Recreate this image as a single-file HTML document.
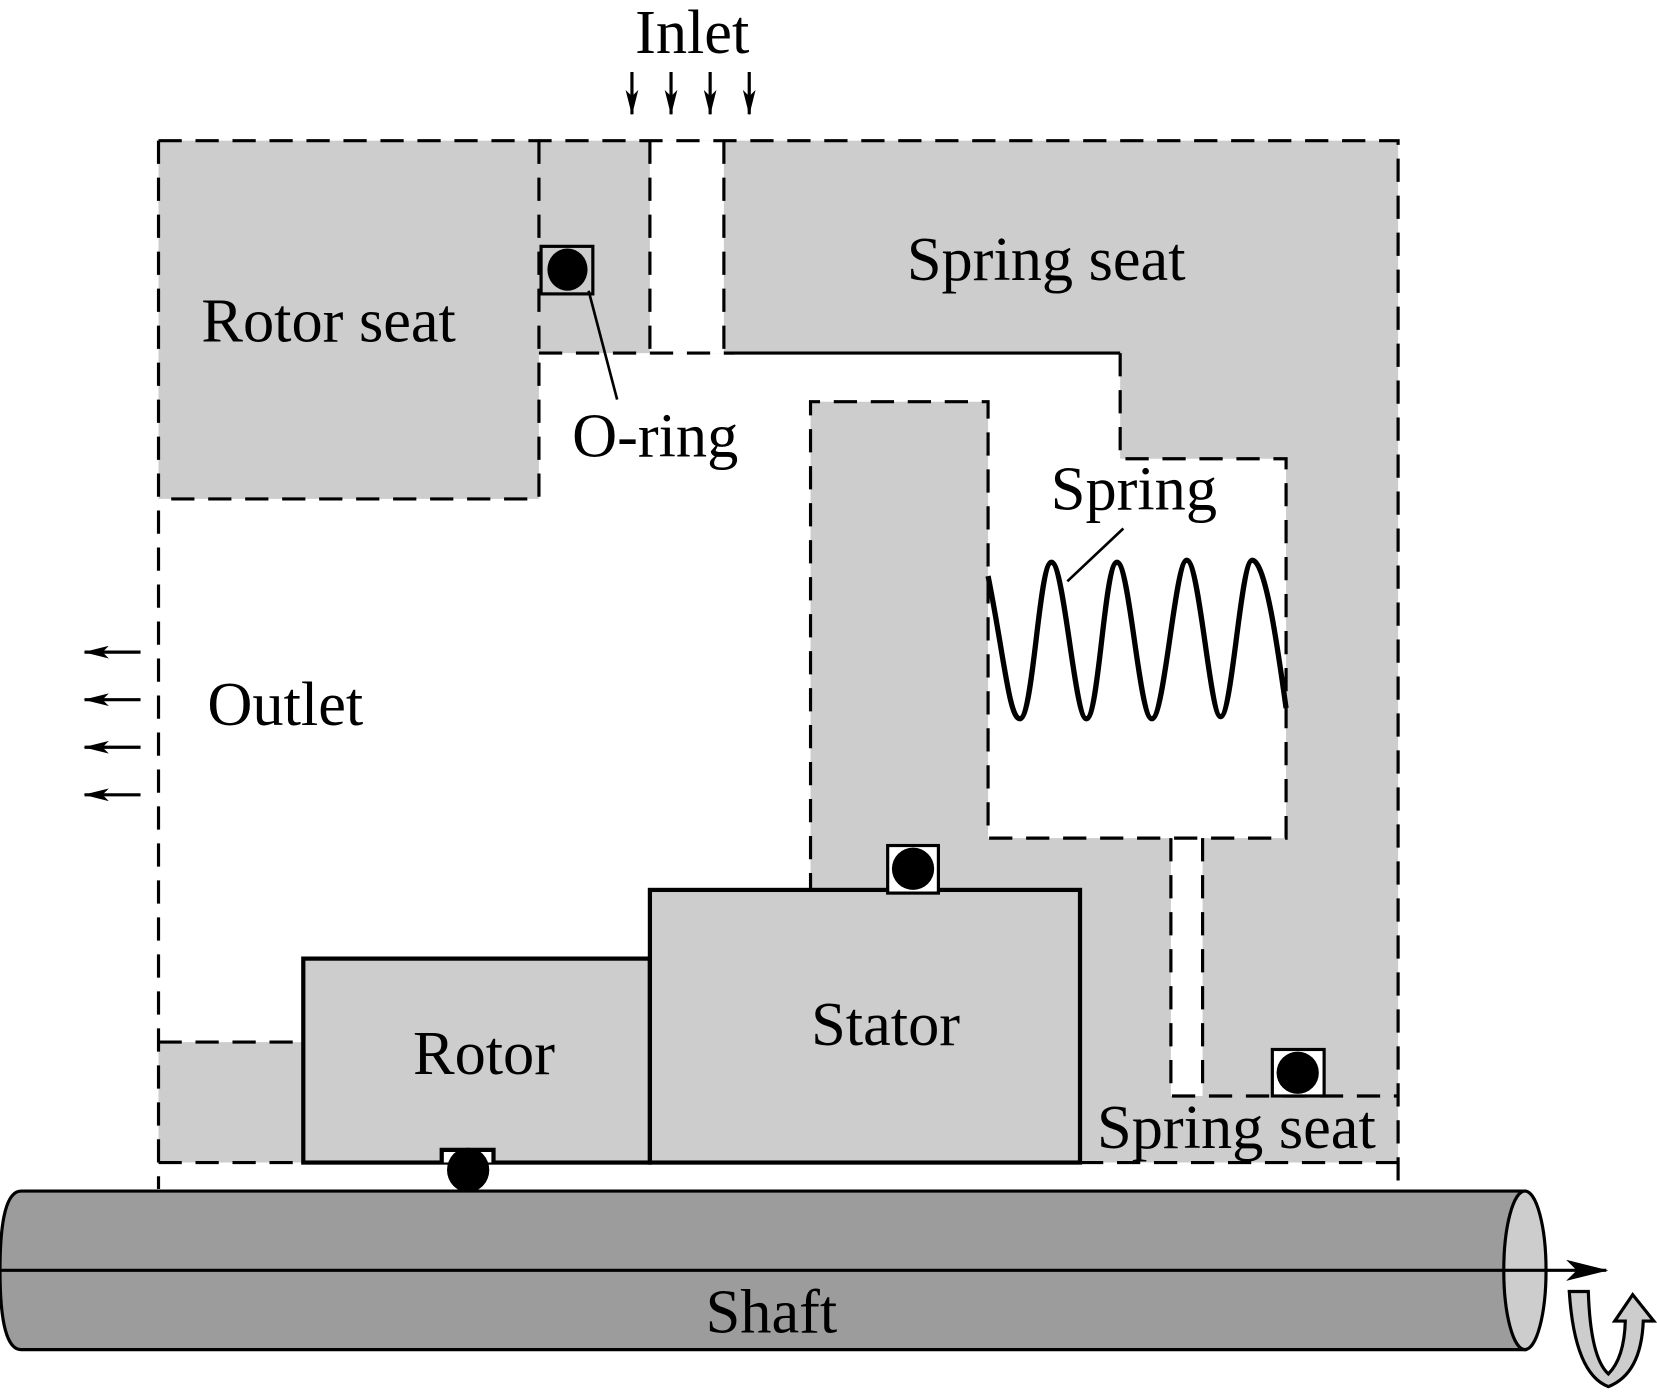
<!DOCTYPE html>
<html><head><meta charset="utf-8"><style>html,body{margin:0;padding:0;background:#fff}svg{display:block}</style></head>
<body>
<svg width="1657" height="1392" viewBox="0 0 1568 1317" xmlns="http://www.w3.org/2000/svg" font-family="Liberation Serif, serif" font-size="59">
<defs><marker id="ah" markerWidth="24" markerHeight="12" refX="23" refY="6" orient="auto" markerUnits="userSpaceOnUse"><path d="M0,0 L24,6 L0,12 L6,6z" fill="#000"/></marker>
<marker id="ah2" markerWidth="40" markerHeight="20" refX="38" refY="10" orient="auto" markerUnits="userSpaceOnUse"><path d="M0,0 L40,10 L0,20 L10,10z" fill="#000"/></marker></defs>
<rect x="150" y="133" width="1173" height="967" fill="#cdcdcd"/>
<path d="M150,472 L510,472 L510,334 L1060,334 L1060,434 L1217,434 L1217,793 L1138,793 L1138,1037 L1108,1037 L1108,793 L935,793 L935,380 L767,380 L767,1100 L287,1100 L287,986 L150,986 Z" fill="#fff"/>
<rect x="615" y="133" width="70" height="201" fill="#fff"/>
<rect x="150" y="1100" width="1173" height="27" fill="#fff"/>
<g stroke="#000" stroke-width="3" fill="none" stroke-dasharray="22,13">
<path d="M150,133 H1323 V1125"/>
<path d="M150,133 V1125"/>
<path d="M510,133 V472 H150"/>
<path d="M510,334 H695"/>
<path d="M615,133 V334 M685,133 V334"/>
<path d="M1060,334 V434 H1217 V793 H935 V380 H767 V842"/>
<path d="M1108,793 V1037 H1323 M1138,793 V1037"/>
<path d="M150,986 H287 M150,1100 H287"/>
<path d="M1022,1100 H1323"/>
</g>
<line x1="685" y1="334" x2="1060" y2="334" stroke="#000" stroke-width="3"/>
<rect x="287" y="907" width="328" height="193" fill="#cdcdcd" stroke="#000" stroke-width="4"/>
<rect x="615" y="842" width="407" height="258" fill="#cdcdcd" stroke="#000" stroke-width="4"/>
<rect x="512" y="233" width="49" height="45" fill="#cdcdcd" stroke="#000" stroke-width="3"/>
<ellipse cx="537" cy="255" rx="19" ry="20" fill="#000"/>
<rect x="840" y="800" width="48" height="45" fill="#fff" stroke="#000" stroke-width="3"/>
<circle cx="864" cy="822" r="20" fill="#000"/>
<rect x="1204" y="993" width="49" height="44" fill="#fff" stroke="#000" stroke-width="3"/>
<circle cx="1228" cy="1015" r="20" fill="#000"/>
<path d="M418,1100 V1088 H467 V1100" fill="#fff" stroke="#000" stroke-width="4"/>
<ellipse cx="443" cy="1107" rx="20" ry="21" fill="#000"/>
<line x1="557" y1="275" x2="584" y2="378" stroke="#000" stroke-width="2.5"/>
<path d="M935,545 C950,620 955,680 965,680 C978,680 983,532 995,532 C1007,532 1017,680 1028,680 C1040,680 1045,532 1057,532 C1069,532 1078,680 1090,680 C1102,680 1112,530 1123,530 C1135,530 1145,678 1155,678 C1166,678 1174,530 1185,530 C1198,530 1210,620 1217,670" fill="none" stroke="#000" stroke-width="5"/>
<line x1="1010" y1="550" x2="1063" y2="500" stroke="#000" stroke-width="2.5"/>
<path d="M20,1127 H1443 V1277 H20 Q0,1277 0,1202 Q0,1127 20,1127 Z" fill="#9c9c9c" stroke="#000" stroke-width="3"/>
<ellipse cx="1443" cy="1202" rx="20" ry="75" fill="#cdcdcd" stroke="#000" stroke-width="3"/>
<line x1="0" y1="1202" x2="1520" y2="1202" stroke="#000" stroke-width="3" marker-end="url(#ah2)"/>
<path d="M1485,1222 L1503,1222 Q1505,1285 1522,1300 Q1537,1285 1538,1250 L1528,1250 L1545,1225 L1565,1250 L1555,1250 Q1553,1300 1522,1312 Q1490,1300 1485,1222 Z" fill="#cdcdcd" stroke="#000" stroke-width="3"/>
<g stroke="#000" stroke-width="3" marker-end="url(#ah)">
<line x1="598" y1="68" x2="598" y2="108"/><line x1="635" y1="68" x2="635" y2="108"/>
<line x1="672" y1="68" x2="672" y2="108"/><line x1="709" y1="68" x2="709" y2="108"/>
<line x1="133" y1="617" x2="80" y2="617"/><line x1="133" y1="662" x2="80" y2="662"/>
<line x1="133" y1="707" x2="80" y2="707"/><line x1="133" y1="752" x2="80" y2="752"/>
</g>
<g text-anchor="middle" fill="#000">
<text x="655" y="50">Inlet</text>
<text x="311" y="323">Rotor seat</text>
<text x="990" y="265">Spring seat</text>
<text x="620" y="432">O-ring</text>
<text x="1073" y="482">Spring</text>
<text x="270" y="686">Outlet</text>
<text x="458" y="1016">Rotor</text>
<text x="838" y="989">Stator</text>
<text x="1170" y="1086">Spring seat</text>
<text x="730" y="1261">Shaft</text>
</g>
</svg>
</body></html>
